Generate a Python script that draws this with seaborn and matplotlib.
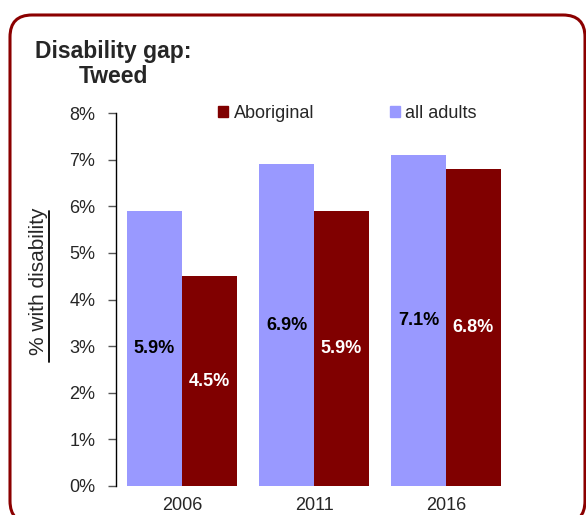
import numpy as np
import matplotlib
matplotlib.use('Agg')
import matplotlib.pyplot as plt
import matplotlib.transforms as mtransforms
from matplotlib.patches import FancyBboxPatch, Patch
from matplotlib.ticker import FuncFormatter
import pandas as pd
import seaborn as sns

years = ['2006', '2011', '2016']
all_adults = [5.9, 6.9, 7.1]
aboriginal = [4.5, 5.9, 6.8]
series = ['all adults', 'Aboriginal']
colors = {'all adults': '#9999FF', 'Aboriginal': '#800000'}

sns.set_style('white')
plt.rcParams['font.family'] = ['Liberation Sans', 'DejaVu Sans']

df = pd.DataFrame({
    'year': years * 2,
    'value': all_adults + aboriginal,
    'series': ['all adults'] * 3 + ['Aboriginal'] * 3,
})

fig = plt.figure(figsize=(5.86, 5.15), dpi=100)
ax = fig.add_axes([116 / 586, 29 / 515, (512 - 116) / 586, (486 - 113) / 515])

sns.barplot(data=df, x='year', y='value', hue='series', hue_order=series,
            palette=colors, width=0.833, gap=0, saturation=1, ax=ax,
            legend=False, edgecolor='none')

ax.set_ylim(0, 8)
ax.set_xlim(-0.5, 2.5)
ax.set_yticks(range(0, 9))
ax.yaxis.set_major_formatter(FuncFormatter(lambda v, p: '%d%%' % v))
ax.tick_params(axis='y', which='both', left=True, length=6, width=1,
               color='#555555', pad=9, labelsize=13)
ax.tick_params(axis='x', length=0, pad=8, labelsize=13)
ax.set_xlabel('')
ax.set_ylabel('')
for s in ['top', 'right', 'bottom']:
    ax.spines[s].set_visible(False)
ax.spines['left'].set_color('black')
ax.spines['left'].set_linewidth(1)

# value labels
for cont, name in zip(ax.containers, series):
    vals = all_adults if name == 'all adults' else aboriginal
    ax.bar_label(cont, labels=['%.1f%%' % v for v in vals], label_type='center',
                 fontsize=13, fontweight='bold',
                 color='black' if name == 'all adults' else 'white')

# legend: Aboriginal first
handles = [Patch(color=colors['Aboriginal']), Patch(color=colors['all adults'])]
ax.legend(handles, ['Aboriginal', 'all adults'], ncol=2, loc='center',
          bbox_to_anchor=(0.585, 1.0), frameon=False, fontsize=13,
          handlelength=0.55, handleheight=0.55, handletextpad=0.3,
          columnspacing=4.2)

# y label with underline
fig.text(39 / 586, 1 - 281 / 515, '% with disability', rotation=90,
         ha='center', va='center', fontsize=15)
fig.add_artist(plt.Line2D([49 / 586, 49 / 586], [1 - 362 / 515, 1 - 211 / 515],
                          color='black', lw=1.3, transform=fig.transFigure))

# title
fig.text(113 / 586, 1 - 64 / 515, 'Disability gap:\nTweed', ha='center',
         va='center', fontsize=16.5, fontweight='bold', linespacing=1.15)

# rounded border
border = FancyBboxPatch((10, -8), 575, 508,
                        boxstyle='round,pad=0,rounding_size=22',
                        transform=mtransforms.IdentityTransform(),
                        facecolor='none', edgecolor='#8B0000', linewidth=2.2)
fig.patches.append(border)

fig.savefig('out.png', dpi=100)
